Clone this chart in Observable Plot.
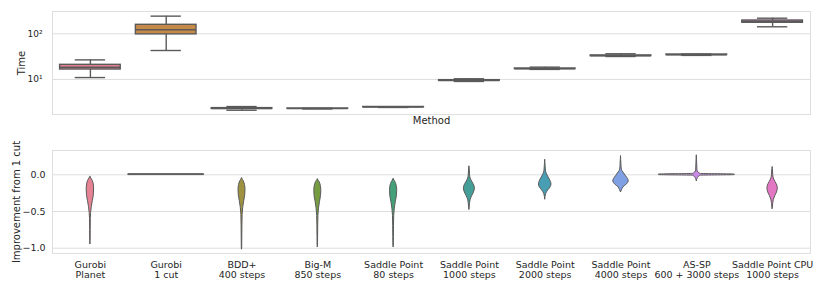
<!DOCTYPE html>
<html>
<head>
<meta charset="utf-8">
<script src="https://cdn.jsdelivr.net/npm/d3@7"></script>
<script src="https://cdn.jsdelivr.net/npm/@observablehq/plot@0.6"></script>
<style>
  html, body { margin: 0; padding: 0; background: #fff; }
  #chart { width: 830px; font-family: "DejaVu Sans", sans-serif; }
  #chart svg { display: block; }
</style>
</head>
<body>
<div id="chart"></div>
<script>
// ---------- data ----------
const methods = [
  "Gurobi\nPlanet", "Gurobi\n1 cut", "BDD+\n400 steps", "Big-M\n850 steps",
  "Saddle Point\n80 steps", "Saddle Point\n1000 steps", "Saddle Point\n2000 steps",
  "Saddle Point\n4000 steps", "AS-SP\n600 + 3000 steps", "Saddle Point CPU\n1000 steps"
];
const palette = ["#f77189", "#dc8932", "#ae9d31", "#77ab31", "#33b07a",
                 "#36ada4", "#38a9c5", "#6e9bf4", "#cc7af4", "#f565cc"];

// Time box plot statistics (seconds)
const timeMin = [11.0, 43, 2.12, 2.26, 2.44, 9.04, 16.6, 31.8, 33.6, 142];
const timeQ1  = [16.5, 97, 2.27, 2.28, 2.46, 9.35, 16.9, 32.5, 34.2, 174];
const timeMed = [18.5, 122, 2.30, 2.30, 2.48, 9.5, 17.1, 33.0, 34.7, 186];
const timeQ3  = [20.9, 157, 2.36, 2.32, 2.50, 9.65, 17.4, 33.6, 35.2, 195];
const timeMax = [26.8, 243, 2.55, 2.34, 2.52, 10.35, 18.6, 36.5, 36.0, 219];
const timeTicks = [10, 100];

// Improvement violin profiles: [value, density] per method
const violinProfiles = [
  [[-0.03,0],[-0.07,1.8],[-0.12,3.2],[-0.20,3.7],[-0.28,3.4],[-0.36,2.4],[-0.44,1.4],[-0.52,0.7],[-0.60,0.4],[-0.75,0.3],[-0.90,0.2],[-0.95,0]],
  [[0.004,38],[-0.004,38]],
  [[-0.05,0],[-0.09,1.8],[-0.14,3.0],[-0.21,3.5],[-0.28,3.2],[-0.36,2.2],[-0.45,1.2],[-0.55,0.6],[-0.70,0.4],[-0.85,0.3],[-1.00,0.2],[-1.02,0]],
  [[-0.065,0],[-0.10,1.8],[-0.15,3.0],[-0.22,3.5],[-0.29,3.2],[-0.37,2.2],[-0.46,1.2],[-0.56,0.6],[-0.70,0.4],[-0.85,0.3],[-0.97,0.2],[-0.99,0]],
  [[-0.06,0],[-0.10,1.8],[-0.15,3.1],[-0.22,3.6],[-0.29,3.3],[-0.37,2.2],[-0.46,1.2],[-0.56,0.6],[-0.70,0.4],[-0.85,0.3],[-0.97,0.2],[-0.99,0]],
  [[0.11,0],[0.06,0.4],[0.0,0.6],[-0.05,1.2],[-0.10,3.0],[-0.15,5.0],[-0.19,5.5],[-0.24,4.6],[-0.29,2.8],[-0.34,1.3],[-0.40,0.6],[-0.48,0]],
  [[0.20,0],[0.12,0.4],[0.05,0.8],[0.0,2.0],[-0.05,4.0],[-0.10,5.8],[-0.13,6.3],[-0.17,5.5],[-0.21,3.2],[-0.26,1.0],[-0.34,0]],
  [[0.25,0],[0.15,0.4],[0.07,0.8],[0.03,2.5],[-0.02,5.0],[-0.06,7.2],[-0.09,7.7],[-0.13,6.0],[-0.17,2.5],[-0.21,1.0],[-0.24,0]],
  [[0.26,0],[0.15,0.4],[0.06,0.6],[0.03,1.8],[0.012,4.0],[0.004,38],[-0.004,38],[-0.012,4.0],[-0.03,2.0],[-0.06,0.6],[-0.09,0]],
  [[0.10,0],[0.06,0.4],[0.0,0.6],[-0.05,1.2],[-0.10,3.0],[-0.15,4.8],[-0.19,5.2],[-0.24,4.4],[-0.29,2.7],[-0.34,1.3],[-0.40,0.6],[-0.47,0]]
];
const improvementTicks = [-1, -0.5, 0];

// ---------- helpers ----------
const desat = (hex) => { const c = d3.hsl(hex); c.s *= 0.75; return c.formatHex(); };
const colors = palette.map(desat);
const lineGray = "#5a5a5a";
const gridGray = "#dedede";
const W = 830, ML = 52, MR = 20;

const boxes = methods.map((m, i) => ({
  i, min: timeMin[i], q1: timeQ1[i], med: timeMed[i], q3: timeQ3[i], max: timeMax[i], color: colors[i]
}));
const maxDensity = d3.max(violinProfiles.flat(), d => d[1]);
const violinRows = violinProfiles.flatMap((prof, i) =>
  prof.map(([v, d]) => ({ i, v, w: d / maxDensity * 0.5, color: colors[i] })));

const supers = { 10: "10¹", 100: "10²" };

// ---------- top: Time box plot ----------
const timePlot = Plot.plot({
  width: W, height: 130,
  marginLeft: ML, marginRight: MR, marginTop: 11, marginBottom: 16,
  style: { fontFamily: "DejaVu Sans, sans-serif", fontSize: "9.5px", color: "#262626", overflow: "visible" },
  x: { domain: [-0.5, 9.5], axis: null },
  y: { type: "log", domain: [1.71, 307] },
  color: { type: "identity" },
  marks: [
    Plot.gridY(timeTicks, { stroke: gridGray, strokeOpacity: 1, strokeWidth: 1 }),
    Plot.frame({ stroke: gridGray, strokeWidth: 1 }),
    Plot.axisY(timeTicks, { tickFormat: d => supers[d], tickSize: 0, tickPadding: 10, fontSize: 9, label: null }),
    Plot.ruleX(boxes, { x: "i", y1: "min", y2: "q1", stroke: lineGray, strokeWidth: 1.4 }),
    Plot.ruleX(boxes, { x: "i", y1: "q3", y2: "max", stroke: lineGray, strokeWidth: 1.4 }),
    Plot.ruleY(boxes, { y: "min", x1: d => d.i - 0.2, x2: d => d.i + 0.2, stroke: lineGray, strokeWidth: 1.4 }),
    Plot.ruleY(boxes, { y: "max", x1: d => d.i - 0.2, x2: d => d.i + 0.2, stroke: lineGray, strokeWidth: 1.4 }),
    Plot.rect(boxes, { x1: d => d.i - 0.4, x2: d => d.i + 0.4, y1: "q1", y2: "q3", fill: "color", stroke: lineGray, strokeWidth: 1.4 }),
    Plot.ruleY(boxes, { y: "med", x1: d => d.i - 0.4, x2: d => d.i + 0.4, stroke: lineGray, strokeWidth: 1.4 }),
    Plot.text(["Time"], { frameAnchor: "left", textAnchor: "middle", rotate: -90, dx: -30.5, fontSize: 10, lineAnchor: "middle" }),
    Plot.text(["Method"], { frameAnchor: "bottom", textAnchor: "middle", dy: 6, fontSize: 10, lineAnchor: "middle" })
  ]
});

// ---------- bottom: Improvement violin plot ----------
const improvementPlot = Plot.plot({
  width: W, height: 161,
  marginLeft: ML, marginRight: MR, marginTop: 20, marginBottom: 38,
  style: { fontFamily: "DejaVu Sans, sans-serif", fontSize: "9.5px", color: "#262626", overflow: "visible" },
  x: { domain: [-0.5, 9.5] },
  y: { domain: [-1.072, 0.331] },
  color: { type: "identity" },
  marks: [
    Plot.gridY(improvementTicks, { stroke: gridGray, strokeOpacity: 1, strokeWidth: 1 }),
    Plot.frame({ stroke: gridGray, strokeWidth: 1 }),
    Plot.axisY(improvementTicks, { tickFormat: d3.format(".1f"), tickSize: 0, tickPadding: 7, fontSize: 9.5, label: null }),
    Plot.axisX(d3.range(methods.length), { tickFormat: i => methods[i], tickSize: 0, tickPadding: 7, fontSize: 9.5, lineHeight: 1.08, label: null }),
    Plot.areaX(violinRows, {
      y: "v", x1: d => d.i - d.w, x2: d => d.i + d.w, z: "i",
      fill: "color", stroke: lineGray, strokeWidth: 1, curve: "monotone-y"
    }),
    Plot.text(["Improvement from 1 cut"], { frameAnchor: "left", textAnchor: "middle", rotate: -90, dx: -35.5, fontSize: 10, lineAnchor: "middle" })
  ]
});

const root = document.getElementById("chart");
root.append(timePlot, improvementPlot);
</script>
</body>
</html>
